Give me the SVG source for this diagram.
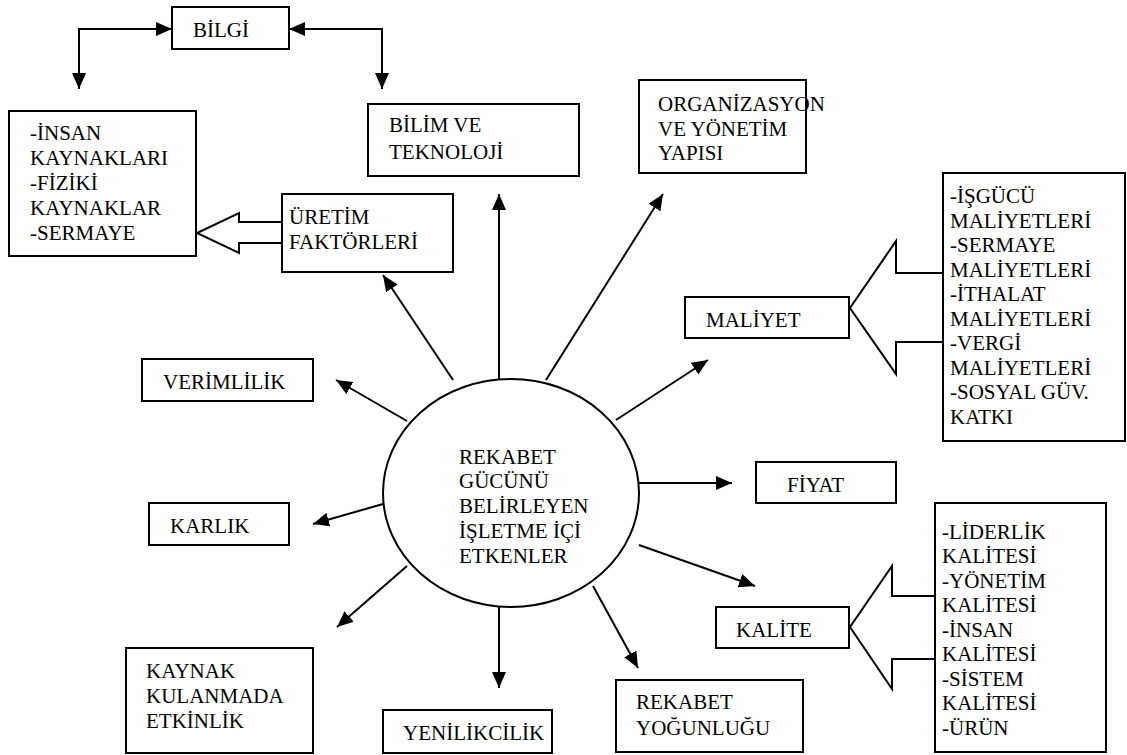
<svg xmlns="http://www.w3.org/2000/svg" width="1127" height="755" viewBox="0 0 1127 755">
<style>
text{font-family:"Liberation Serif","Times New Roman",serif;font-size:21px;fill:#000}
.box{fill:#fff;stroke:#000;stroke-width:2}
.ln{fill:none;stroke:#000;stroke-width:2}
.blk{fill:none;stroke:#000;stroke-width:2;stroke-linejoin:miter}
</style>
<defs>
<marker id="ah" viewBox="0 0 16 14" refX="16" refY="7" markerWidth="16" markerHeight="14" markerUnits="userSpaceOnUse" orient="auto-start-reverse">
<path d="M0,0 L16,7 L0,14 z" fill="#000"/>
</marker>
</defs>
<rect width="1127" height="755" fill="#fff"/>
<g id="connectors">
<path class="ln" d="M172,29 H79 V89" marker-start="url(#ah)" marker-end="url(#ah)"/>
<path class="ln" d="M289,29 H382 V89" marker-start="url(#ah)" marker-end="url(#ah)"/>
<line class="ln" x1="499" y1="379" x2="499" y2="194" marker-end="url(#ah)"/>
<line class="ln" x1="453" y1="380" x2="383" y2="275" marker-end="url(#ah)"/>
<line class="ln" x1="546" y1="380" x2="663" y2="194" marker-end="url(#ah)"/>
<line class="ln" x1="616" y1="420" x2="708" y2="360" marker-end="url(#ah)"/>
<line class="ln" x1="407" y1="421" x2="336" y2="380" marker-end="url(#ah)"/>
<line class="ln" x1="639" y1="483" x2="732" y2="483" marker-end="url(#ah)"/>
<line class="ln" x1="383" y1="504" x2="313" y2="524" marker-end="url(#ah)"/>
<line class="ln" x1="639" y1="545" x2="755" y2="586" marker-end="url(#ah)"/>
<line class="ln" x1="407" y1="566" x2="337" y2="627" marker-end="url(#ah)"/>
<line class="ln" x1="499" y1="607" x2="499" y2="688" marker-end="url(#ah)"/>
<line class="ln" x1="593" y1="586" x2="638" y2="668" marker-end="url(#ah)"/>
<polyline class="blk" points="282,222 239,222 239,213 197,233 239,253 239,243 282,243"/>
<polyline class="blk" points="943,273 896,273 896,241 850,308 896,374 896,342 943,342"/>
<polyline class="blk" points="935,596 892,596 892,566 850,627 892,689 892,659 935,659"/>
</g>
<g id="bilgi">
<rect class="box" x="172" y="7" width="117" height="42"/>
<text x="193" y="37">BİLGİ</text>
</g>
<g id="kaynaklar">
<rect class="box" x="9" y="111" width="187" height="145"/>
<text x="30" y="140">-İNSAN</text>
<text x="30" y="165">KAYNAKLARI</text>
<text x="30" y="190">-FİZİKİ</text>
<text x="30" y="215">KAYNAKLAR</text>
<text x="30" y="240">-SERMAYE</text>
</g>
<g id="bilim">
<rect class="box" x="368" y="104" width="211" height="72"/>
<text x="389" y="132">BİLİM VE</text>
<text x="389" y="159">TEKNOLOJİ</text>
</g>
<g id="organizasyon">
<rect class="box" x="639" y="80" width="167" height="93"/>
<text x="658" y="111">ORGANİZASYON</text>
<text x="658" y="136">VE YÖNETİM</text>
<text x="658" y="160">YAPISI</text>
</g>
<g id="uretim">
<rect class="box" x="282" y="194" width="171" height="78"/>
<text x="289" y="224">ÜRETİM</text>
<text x="289" y="249">FAKTÖRLERİ</text>
</g>
<g id="maliyet">
<rect class="box" x="685" y="297" width="164" height="41"/>
<text x="706" y="327">MALİYET</text>
</g>
<g id="maliyet-liste">
<rect class="box" x="943" y="173" width="182" height="268"/>
<text x="950" y="203">-İŞGÜCÜ</text>
<text x="950" y="228">MALİYETLERİ</text>
<text x="950" y="252">-SERMAYE</text>
<text x="950" y="277">MALİYETLERİ</text>
<text x="950" y="301">-İTHALAT</text>
<text x="950" y="326">MALİYETLERİ</text>
<text x="950" y="350">-VERGİ</text>
<text x="950" y="375">MALİYETLERİ</text>
<text x="950" y="399">-SOSYAL GÜV.</text>
<text x="950" y="424">KATKI</text>
</g>
<g id="verimlilik">
<rect class="box" x="142" y="359" width="171" height="42"/>
<text x="163" y="389">VERİMLİLİK</text>
</g>
<g id="merkez">
<ellipse cx="511" cy="493" rx="128" ry="114" fill="#fff" stroke="#000" stroke-width="2"/>
<text x="459" y="464">REKABET</text>
<text x="459" y="488">GÜCÜNÜ</text>
<text x="459" y="513">BELİRLEYEN</text>
<text x="459" y="538">İŞLETME İÇİ</text>
<text x="459" y="563">ETKENLER</text>
</g>
<g id="fiyat">
<rect class="box" x="756" y="462" width="140" height="41"/>
<text x="787" y="492">FİYAT</text>
</g>
<g id="karlik">
<rect class="box" x="149" y="503" width="140" height="42"/>
<text x="170" y="533">KARLIK</text>
</g>
<g id="kalite">
<rect class="box" x="716" y="607" width="133" height="41"/>
<text x="736" y="637">KALİTE</text>
</g>
<g id="kalite-liste">
<rect class="box" x="935" y="503" width="171" height="249"/>
<text x="942" y="539">-LİDERLİK</text>
<text x="942" y="563">KALİTESİ</text>
<text x="942" y="588">-YÖNETİM</text>
<text x="942" y="612">KALİTESİ</text>
<text x="942" y="637">-İNSAN</text>
<text x="942" y="661">KALİTESİ</text>
<text x="942" y="686">-SİSTEM</text>
<text x="942" y="710">KALİTESİ</text>
<text x="942" y="735">-ÜRÜN</text>
</g>
<g id="kaynak">
<rect class="box" x="126" y="648" width="187" height="105"/>
<text x="146" y="678">KAYNAK</text>
<text x="146" y="703">KULANMADA</text>
<text x="146" y="728">ETKİNLİK</text>
</g>
<g id="yenilikcilik">
<rect class="box" x="383" y="710" width="169" height="43"/>
<text x="403" y="740">YENİLİKCİLİK</text>
</g>
<g id="rekabet-yogunlugu">
<rect class="box" x="616" y="680" width="187" height="72"/>
<text x="636" y="709">REKABET</text>
<text x="636" y="735">YOĞUNLUĞU</text>
</g>
</svg>
